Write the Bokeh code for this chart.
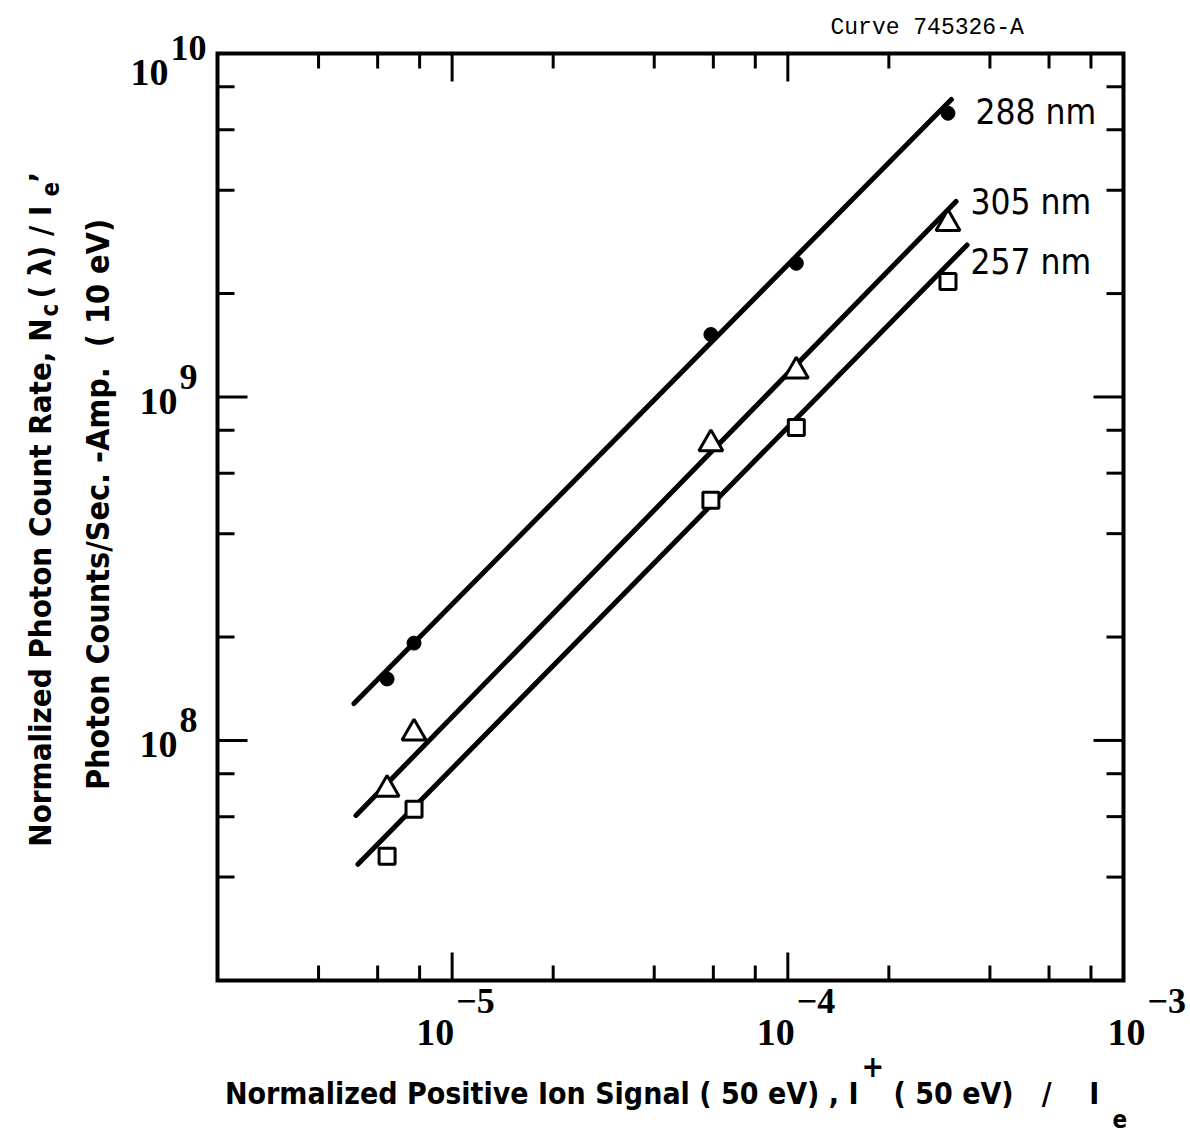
import math
from bokeh.plotting import figure
from bokeh.models import Label, Range1d
from bokeh.embed import file_html
from bokeh.resources import INLINE

# ---------------- data ----------------
ion_signal = [6.4e-6, 7.7e-6, 5.9e-5, 1.06e-4, 3.0e-4]
rate_288 = [1.51e8, 1.92e8, 1.52e9, 2.45e9, 6.7e9]
rate_305 = [7.2e7, 1.05e8, 7.3e8, 1.19e9, 3.2e9]
rate_257 = [4.6e7, 6.3e7, 5.0e8, 8.15e8, 2.17e9]

fit_x_288 = [5.1e-6, 3.07e-4]
fit_y_288 = [1.28e8, 7.35e9]
fit_x_305 = [5.17e-6, 3.17e-4]
fit_y_305 = [6.05e7, 3.71e9]
fit_x_257 = [5.24e-6, 3.42e-4]
fit_y_257 = [4.36e7, 2.77e9]

NB = "\u00a0"
series_labels = ["288" + NB + "nm", "305" + NB + "nm", "257" + NB + "nm"]

x_limits = [2e-6, 1e-3]
y_limits = [2e7, 1e10]
x_major = [1e-5, 1e-4, 1e-3]
x_exps = ["\u22125", "\u22124", "\u22123"]
x_minor = [4e-6, 6e-6, 8e-6, 2e-5, 4e-5, 6e-5, 8e-5, 2e-4, 4e-4, 6e-4, 8e-4]
y_major = [1e8, 1e9, 1e10]
y_exps = ["8", "9", "10"]
y_minor = [4e7, 6e7, 8e7, 2e8, 4e8, 6e8, 8e8, 2e9, 4e9, 6e9, 8e9]
tick_base = "10"

x_title = ["Normalized Positive Ion Signal ( 50 eV) , I", "+",
           "(" + NB + "50 eV)" + NB * 3 + "/" + NB * 4 + "I", "e"]
y_title1 = ["Normalized Photon Count Rate, N", "c", "( \u03bb) / I", "e", "\u2019"]
y_title2 = "Photon Counts/Sec. -Amp." + NB + NB + "( 10 eV)"
curve_id = "Curve 745326-A"

# ---------------- layout (pixels from the top-left corner) ----------------
W, H = 1186, 1135
FL, FR, FT, FB = 217, 1123, 53, 980   # plot box edges
SANS = "DejaVu Sans Condensed"
SERIF = "Liberation Serif"
MONO = "Liberation Mono"

XLO, XHI = x_limits
YLO, YHI = y_limits
DX = (FR - FL) / math.log10(XHI / XLO)
DY = (FB - FT) / math.log10(YHI / YLO)
x_rng = Range1d(10 ** (math.log10(XLO) - FL / DX), 10 ** (math.log10(XHI) + (W - FR) / DX))
y_rng = Range1d(10 ** (math.log10(YLO) - (H - FB) / DY), 10 ** (math.log10(YHI) + FT / DY))

p = figure(width=W, height=H, x_axis_type="log", y_axis_type="log",
           x_range=x_rng, y_range=y_rng,
           x_axis_location=None, y_axis_location=None,
           output_backend="svg", toolbar_location=None,
           min_border=0)
p.grid.visible = False
p.outline_line_color = None
p.background_fill_color = "white"
p.border_fill_color = "white"

# plot box
p.quad(left=[XLO], right=[XHI], bottom=[YLO], top=[YHI], fill_color=None,
       line_color="black", line_width=4, line_join="miter")

# ticks (inside, on all four sides)
TK = dict(line_color="black", line_width=3, length_units="screen")
for vals, ln in [(x_major, 28), (x_minor, 15)]:
    p.ray(x=vals, y=[YLO] * len(vals), length=ln, angle=math.pi / 2, **TK)
    p.ray(x=vals, y=[YHI] * len(vals), length=ln, angle=-math.pi / 2, **TK)
for vals, ln in [(y_major, 30), (y_minor, 17)]:
    p.ray(x=[XLO] * len(vals), y=vals, length=ln, angle=0, **TK)
    p.ray(x=[XHI] * len(vals), y=vals, length=ln, angle=math.pi, **TK)

# fit lines
for fxs, fys in [(fit_x_288, fit_y_288), (fit_x_305, fit_y_305), (fit_x_257, fit_y_257)]:
    p.line(fxs, fys, line_width=5, line_color="black", line_cap="round")

# data markers
p.scatter(ion_signal, rate_288, marker="circle", size=14, fill_color="black", line_color="black")
p.scatter(ion_signal, rate_305, marker="triangle", size=24, fill_color="white",
          line_color="black", line_width=3)
p.scatter(ion_signal, rate_257, marker="square", size=16, fill_color="white",
          line_color="black", line_width=3)


def shift(size):
    # baseline correction, proportional to the font size
    return 0.34 * size


def lab(text, px, py, size, align="left", angle=0.0, font=SANS, style="normal"):
    s = shift(size)
    if angle == 0.0:
        sx, sy = px, H - py + s
    else:
        sx, sy = px - s, H - py
    p.add_layout(Label(x=sx, y=sy, x_units="screen", y_units="screen", text=text,
                       text_font=font, text_font_style=style, text_font_size=f"{size}px",
                       text_align=align, text_baseline="alphabetic", angle=angle,
                       text_color="black"))


# series labels
for txt, (lx, ly) in zip(series_labels, [(975, 123), (970, 213), (970, 273)]):
    lab(txt, lx, ly, 35)

# x tick labels
x_lab_dx = [0, 5, 20]
for v, e, dx in zip(x_major, x_exps, x_lab_dx):
    p.add_layout(Label(x=v, y=H - 1045 + shift(38), x_units="data", y_units="screen",
                       x_offset=2 + dx,
                       text=tick_base, text_font=SERIF, text_font_style="bold",
                       text_font_size="38px", text_align="right", text_baseline="alphabetic",
                       text_color="black"))
    p.add_layout(Label(x=v, y=H - 1013 + shift(36), x_units="data", y_units="screen",
                       x_offset=4 + dx,
                       text=e, text_font=SERIF, text_font_style="bold",
                       text_font_size="36px", text_align="left", text_baseline="alphabetic",
                       text_color="black"))

# y tick labels
y_lab_dx = [0, 0, -9]
y_lab_dy = [0, 0, 15]
for v, e, dx, dy in zip(y_major, y_exps, y_lab_dx, y_lab_dy):
    p.add_layout(Label(x=177 + dx, y=v, x_units="screen", y_units="data",
                       y_offset=-(17 + dy) + shift(38),
                       text=tick_base, text_font=SERIF, text_font_style="bold",
                       text_font_size="38px", text_align="right", text_baseline="alphabetic",
                       text_color="black"))
    p.add_layout(Label(x=179 + dx, y=v, x_units="screen", y_units="data",
                       y_offset=8 - dy + shift(36),
                       text=e, text_font=SERIF, text_font_style="bold",
                       text_font_size="36px", text_align="left", text_baseline="alphabetic",
                       text_color="black"))

# x title
lab(x_title[0], 858, 1103, 30, align="right", style="bold")
lab(x_title[1], 861, 1076, 30, style="bold")
lab(x_title[2], 893, 1103, 30, style="bold")
lab(x_title[3], 1112, 1127, 24, style="bold")

# y title (rotated)
A = math.pi / 2
lab(y_title1[0], 50, 318, 31, align="right", angle=A, style="bold")
lab(y_title1[1], 58, 316, 24, angle=A, style="bold")
lab(y_title1[2], 50, 298, 31, angle=A, style="bold")
lab(y_title1[3], 58, 196, 24, angle=A, style="bold")
lab(y_title1[4], 50, 182, 31, angle=A, style="bold")
lab(y_title2, 108, 504, 32, align="center", angle=A, style="bold")

# curve id
lab(curve_id, 830, 35, 23, font=MONO)

open("out.html", "w").write(file_html(p, INLINE))
